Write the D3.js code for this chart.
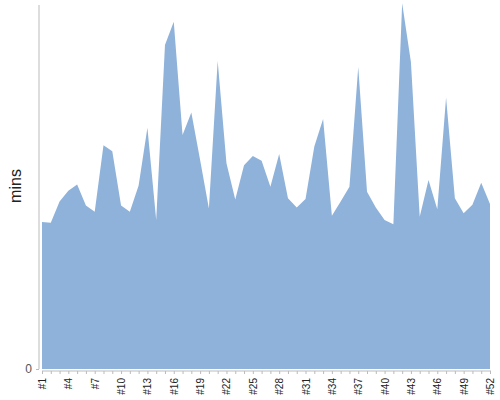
<!DOCTYPE html>
<html><head><meta charset="utf-8">
<script src="https://cdn.jsdelivr.net/npm/d3@7"></script>
<style>body{margin:0;background:#fff}svg{display:block}</style>
</head><body>
<svg id="chart" width="500" height="400"></svg>
<script>
const categories = d3.range(1, 53).map(i => "#" + i);
const values = [40.4,40.2,46.0,49.0,50.7,44.9,43.2,61.5,59.8,44.9,43.2,50.4,66.3,40.9,89.0,95.4,64.3,70.5,57.4,44.1,84.6,56.5,46.6,56.0,58.5,57.2,50.1,59.1,46.9,44.4,46.7,61.1,68.7,42.1,46.0,50.1,83.0,48.7,44.4,40.9,39.8,100.5,84.3,41.8,51.9,43.9,74.6,46.9,42.8,45.1,51.2,45.3];
const yTicks = [0];
const yLabel = "mins";

const svg = d3.select("#chart");
const x = d3.scalePoint().domain(categories).range([42, 490]);
const y = d3.scaleLinear().domain([0, 100]).range([369, 5]);

svg.append("path")
  .datum(values)
  .attr("fill", "#8fb2da")
  .attr("d", d3.area().x((d, i) => x(categories[i])).y0(y(0)).y1(d => Math.max(3, y(d))));

// y axis
const ya = svg.append("g").attr("transform", "translate(39,0)")
  .call(d3.axisLeft(y).tickValues(yTicks).tickSize(3).tickPadding(4));
ya.select(".domain").attr("stroke", "#bbb").attr("d", "M0,5V369");
ya.selectAll(".tick line").attr("stroke", "#bbb");
ya.selectAll(".tick text").attr("fill", "#555").attr("font-family", "Liberation Sans, Arial, sans-serif").attr("font-size", 12);

// x axis
const xa = svg.append("g").attr("transform", "translate(0,371)")
  .call(d3.axisBottom(x).tickSize(3).tickPadding(4)
    .tickFormat((d, i) => i % 3 === 0 ? d : ""));
xa.select(".domain").attr("stroke", "#bbb").attr("d", "M42,0H491");
xa.selectAll(".tick line").attr("stroke", "#bbb");
xa.selectAll(".tick text")
  .attr("fill", "#222").attr("font-family", "Liberation Sans, Arial, sans-serif").attr("font-size", 10)
  .attr("transform", "rotate(-90)").attr("text-anchor", "end")
  .attr("x", -7).attr("y", 0).attr("dy", "0.35em");

svg.append("text")
  .attr("transform", "translate(15,186) rotate(-90)")
  .attr("text-anchor", "middle").attr("dy", "0.35em")
  .attr("font-family", "Liberation Sans, Arial, sans-serif").attr("font-size", 16).attr("fill", "#222")
  .text(yLabel);
</script>
</body></html>
